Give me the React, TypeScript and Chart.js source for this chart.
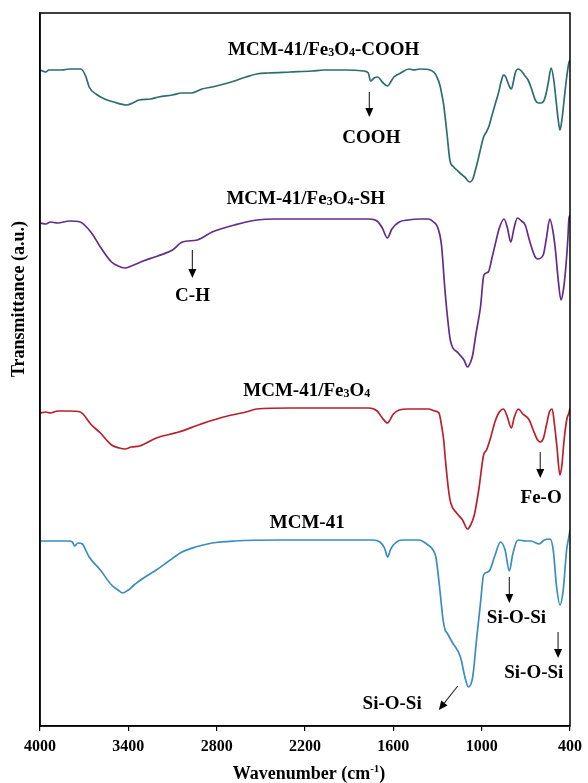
import React, { useEffect, useRef } from "react";
import { Chart, registerables } from "chart.js";

Chart.register(...registerables);

const FAMILY = '"Liberation Serif", "Times New Roman", "DejaVu Serif", serif';

// ---------- data (wavenumber in cm-1, transmittance in a.u., curves stacked) ----------
const xTickValues = [4000, 3400, 2800, 2200, 1600, 1000, 400];

const seriesNames = ["MCM-41/Fe₃O₄-COOH", "MCM-41/Fe₃O₄-SH", "MCM-41/Fe₃O₄", "MCM-41"];
const seriesColors = ["#2c6d6e", "#632c8a", "#b8202c", "#3a8cc2"];

const coohWn = [4000, 3960, 3940, 3850, 3800, 3722, 3690, 3666, 3620, 3560, 3500, 3410, 3370, 3328, 3250, 3193, 3100, 3038, 2970, 2900, 2830, 2750, 2680, 2600, 2527, 2450, 2300, 2150, 2071, 1919, 1800, 1770, 1755, 1730, 1707, 1675, 1640, 1610, 1596, 1550, 1494, 1460, 1419, 1351, 1320, 1304, 1284, 1270, 1258, 1236, 1216, 1190, 1169, 1140, 1115, 1081, 1060, 1048, 1030, 1014, 987, 968, 950, 933, 910, 886, 865, 852, 840, 826, 810, 798, 785, 770, 751, 730, 710, 685, 663, 636, 615, 596, 575, 560, 548, 528, 510, 495, 480, 468, 455, 440, 425, 408, 400];
const coohT = [656, 654, 656, 656, 657, 657, 650, 639, 632, 627, 624, 621, 623, 626, 627, 629, 631, 633, 633, 637, 639, 642, 645, 649, 652, 653, 654, 655, 656, 656, 655, 653, 645, 648, 649, 644, 640, 646, 649, 653, 657, 656, 657, 656, 653, 649, 641, 631, 621, 593, 566, 559, 556, 552, 549, 544, 547, 553, 563, 573, 589, 594, 600, 609, 621, 633, 646, 651, 650, 645, 639, 637, 644, 654, 657, 655, 651, 646, 638, 626, 623, 623, 626, 634, 643, 658, 646, 626, 606, 596, 606, 626, 646, 663, 666];

const shWn = [4000, 3960, 3930, 3880, 3800, 3727, 3650, 3590, 3514, 3470, 3423, 3380, 3300, 3200, 3100, 3033, 2932, 2831, 2750, 2678, 2600, 2527, 2400, 2000, 1767, 1710, 1675, 1640, 1610, 1560, 1500, 1420, 1360, 1327, 1300, 1273, 1251, 1235, 1213, 1159, 1120, 1096, 1075, 1061, 1040, 1008, 985, 955, 930, 909, 880, 848, 825, 802, 780, 757, 730, 704, 685, 666, 640, 620, 582, 560, 537, 515, 499, 480, 461, 445, 430, 415, 408, 400];
const shT = [503, 502, 504, 503, 505, 504, 493, 479, 464, 460, 458, 460, 465, 470, 476, 484, 486, 494, 498, 501, 504, 506, 507, 507, 507, 505, 498, 488, 497, 504, 506, 507, 507, 504, 499, 481, 439, 413, 386, 373, 366, 359, 364, 371, 391, 419, 451, 454, 468, 481, 498, 507, 498, 484, 498, 508, 505, 501, 491, 481, 470, 467, 471, 488, 507, 494, 476, 446, 426, 436, 456, 486, 506, 511];

const fe3o4Wn = [4000, 3960, 3930, 3880, 3800, 3727, 3650, 3590, 3514, 3460, 3423, 3380, 3324, 3210, 3058, 2906, 2754, 2600, 2527, 2300, 2000, 1767, 1710, 1675, 1640, 1600, 1560, 1500, 1420, 1360, 1320, 1290, 1273, 1258, 1248, 1225, 1210, 1170, 1130, 1096, 1075, 1050, 1020, 987, 967, 940, 910, 880, 852, 830, 798, 780, 751, 720, 677, 650, 620, 602, 580, 560, 540, 521, 505, 490, 468, 455, 440, 420, 407, 400];
const fe3o4T = [313, 314, 313, 315, 315, 314, 301, 293, 281, 278, 277, 279, 280, 288, 294, 302, 309, 314, 317, 318, 318, 318, 315, 308, 303, 312, 316, 317, 317, 317, 315, 313, 301, 286, 269, 236, 223, 213, 206, 197, 201, 211, 236, 271, 276, 288, 304, 314, 317, 311, 298, 308, 317, 312, 306, 296, 286, 284, 288, 301, 314, 317, 301, 281, 251, 261, 286, 308, 313, 318];

const mcmWn = [4000, 3900, 3803, 3780, 3765, 3742, 3712, 3690, 3666, 3590, 3514, 3470, 3438, 3400, 3362, 3286, 3210, 3134, 3035, 2944, 2830, 2678, 2375, 2000, 1744, 1691, 1660, 1638, 1620, 1600, 1539, 1425, 1365, 1330, 1311, 1286, 1262, 1248, 1235, 1197, 1144, 1114, 1091, 1061, 1033, 1008, 987, 960, 944, 909, 872, 841, 812, 790, 765, 751, 700, 666, 609, 575, 535, 514, 491, 468, 446, 423, 408, 400];
const mcmT = [185, 185, 185, 184, 180, 183, 182, 176, 169, 156, 141, 136, 133, 136, 141, 149, 156, 164, 174, 179, 183, 185, 186, 186, 186, 184, 178, 169, 176, 181, 186, 186, 181, 176, 169, 139, 106, 96, 93, 83, 69, 49, 39, 49, 89, 123, 151, 154, 156, 171, 184, 176, 155, 171, 184, 186, 185, 185, 182, 186, 187, 176, 139, 121, 136, 176, 189, 196];

const seriesWn = [coohWn, shWn, fe3o4Wn, mcmWn];
const seriesT = [coohT, shT, fe3o4T, mcmT];

// series name positions (wavenumber, a.u.)
const nameWn = [2073, 2195, 2188, 2185];
const nameT = [677, 528, 336, 204];

// peak assignments: arrow start, arrow end, label position
const peakLabels = ["COOH", "C-H", "Fe-O", "Si-O-Si", "Si-O-Si", "Si-O-Si"];
const peakFrom = [[1763, 634], [2965, 476], [602, 274], [812, 149], [481, 94], [1162, 40]];
const peakTo = [[1763, 609], [2965, 448], [602, 248], [812, 123], [481, 68], [1291, 16]];
const peakTextAt = [[1749, 589], [2964, 431], [596, 229], [764, 109], [646, 54], [1608, 23]];

const xTitle = "Wavenumber (cm⁻¹)";
const yTitle = "Transmittance (a.u.)";

// ---------- rich text helpers ----------
const SUBS = "₀₁₂₃₄₅₆₇₈₉";
const SUPS: Record<string, string> = { "⁻": "-", "¹": "1", "²": "2", "³": "3" };

type Seg = { t: string; mode: number; w?: number };
function toSegments(s: string): Seg[] {
  const out: Seg[] = [];
  for (const ch of s) {
    let mode = 0;
    let c = ch;
    const si = SUBS.indexOf(ch);
    if (si >= 0) {
      mode = 1;
      c = String(si);
    } else if (SUPS[ch]) {
      mode = 2;
      c = SUPS[ch];
    }
    const last = out[out.length - 1];
    if (last && last.mode === mode) last.t += c;
    else out.push({ t: c, mode });
  }
  return out;
}

function drawRich(ctx: CanvasRenderingContext2D, s: string, cx: number, cy: number, size: number) {
  const segs = toSegments(s);
  const fontFor = (m: number) => `bold ${m ? Math.round(size * 0.62) : size}px ${FAMILY}`;
  let w = 0;
  for (const seg of segs) {
    ctx.font = fontFor(seg.mode);
    seg.w = ctx.measureText(seg.t).width;
    w += seg.w;
  }
  let x = cx - w / 2;
  const base = cy + size * 0.33;
  ctx.textAlign = "left";
  ctx.textBaseline = "alphabetic";
  for (const seg of segs) {
    ctx.font = fontFor(seg.mode);
    const dy = seg.mode === 1 ? size * 0.06 : seg.mode === 2 ? -size * 0.36 : 0;
    ctx.fillText(seg.t, x, base + dy);
    x += seg.w || 0;
  }
}

function drawArrow(ctx: CanvasRenderingContext2D, x1: number, y1: number, x2: number, y2: number) {
  const ang = Math.atan2(y2 - y1, x2 - x1);
  const len = 9;
  const hw = 4;
  const bx = x2 - len * Math.cos(ang);
  const by = y2 - len * Math.sin(ang);
  ctx.beginPath();
  ctx.moveTo(x1, y1);
  ctx.lineTo(bx, by);
  ctx.strokeStyle = "#333";
  ctx.lineWidth = 1.2;
  ctx.stroke();
  ctx.beginPath();
  ctx.moveTo(x2, y2);
  ctx.lineTo(bx + hw * Math.sin(ang), by - hw * Math.cos(ang));
  ctx.lineTo(bx - hw * Math.sin(ang), by + hw * Math.cos(ang));
  ctx.closePath();
  ctx.fillStyle = "#000";
  ctx.fill();
}

const decorPlugin = {
  id: "decor",
  afterDatasetsDraw(chart: any) {
    const { ctx, chartArea, scales } = chart;
    const xs = scales.x;
    const ys = scales.y;
    ctx.save();
    // frame
    ctx.strokeStyle = "#000";
    ctx.lineWidth = 1.5;
    ctx.strokeRect(chartArea.left, chartArea.top, chartArea.right - chartArea.left, chartArea.bottom - chartArea.top);
    ctx.fillStyle = "#000";
    // series names
    seriesNames.forEach((n, i) => {
      drawRich(ctx, n, xs.getPixelForValue(nameWn[i]), ys.getPixelForValue(nameT[i]), 19);
    });
    // peak assignments
    peakLabels.forEach((lab, i) => {
      drawArrow(
        ctx,
        xs.getPixelForValue(peakFrom[i][0]),
        ys.getPixelForValue(peakFrom[i][1]),
        xs.getPixelForValue(peakTo[i][0]),
        ys.getPixelForValue(peakTo[i][1])
      );
      ctx.fillStyle = "#000";
      drawRich(ctx, lab, xs.getPixelForValue(peakTextAt[i][0]), ys.getPixelForValue(peakTextAt[i][1]), 19);
    });
    // axis titles
    drawRich(ctx, xTitle, (chartArea.left + chartArea.right) / 2 + 4, 773, 18);
    ctx.translate(18, 299);
    ctx.rotate(-Math.PI / 2);
    drawRich(ctx, yTitle, 0, 0, 18);
    ctx.restore();
  },
};

export default function App() {
  const ref = useRef<HTMLCanvasElement>(null);
  useEffect(() => {
    if (!ref.current) return;
    const chart = new Chart(ref.current, {
      type: "line",
      data: {
        datasets: seriesNames.map((name, i) => ({
          label: name,
          data: seriesWn[i].map((w, j) => ({ x: w, y: seriesT[i][j] })),
          borderColor: seriesColors[i],
          backgroundColor: seriesColors[i],
          borderWidth: 1.7,
          pointRadius: 0,
          fill: false,
          cubicInterpolationMode: "monotone" as const,
        })),
      },
      options: {
        responsive: false,
        maintainAspectRatio: false,
        animation: false,
        devicePixelRatio: 1,
        layout: { padding: { top: 13, right: 14, left: 0, bottom: 0 } },
        plugins: { legend: { display: false }, tooltip: { enabled: false } },
        scales: {
          x: {
            type: "linear",
            reverse: true,
            min: 400,
            max: 4000,
            afterBuildTicks: (s: any) => {
              s.ticks = xTickValues.map((v) => ({ value: v }));
            },
            ticks: {
              color: "#000",
              font: { family: FAMILY, size: 16, weight: "bold" },
              padding: 6,
              maxRotation: 0,
              autoSkip: false,
              callback: (v: any) => String(v),
            },
            grid: { display: true, drawOnChartArea: false, drawTicks: true, tickLength: 5, color: "#000", lineWidth: 1.2 },
            border: { display: true, color: "#000", width: 1.5 },
            afterFit: (s: any) => {
              s.height = 57;
            },
          },
          y: {
            type: "linear",
            min: 0,
            max: 713,
            ticks: { display: false },
            grid: { display: false },
            border: { display: true, color: "#000", width: 1.5 },
            afterFit: (s: any) => {
              s.width = 40;
            },
          },
        },
      },
      plugins: [decorPlugin],
    });
    return () => chart.destroy();
  }, []);
  return (
    <div style={{ position: "absolute", left: 0, top: 0, width: 588, height: 783, background: "#fff" }}>
      <canvas ref={ref} width={588} height={783} style={{ display: "block" }} />
    </div>
  );
}
